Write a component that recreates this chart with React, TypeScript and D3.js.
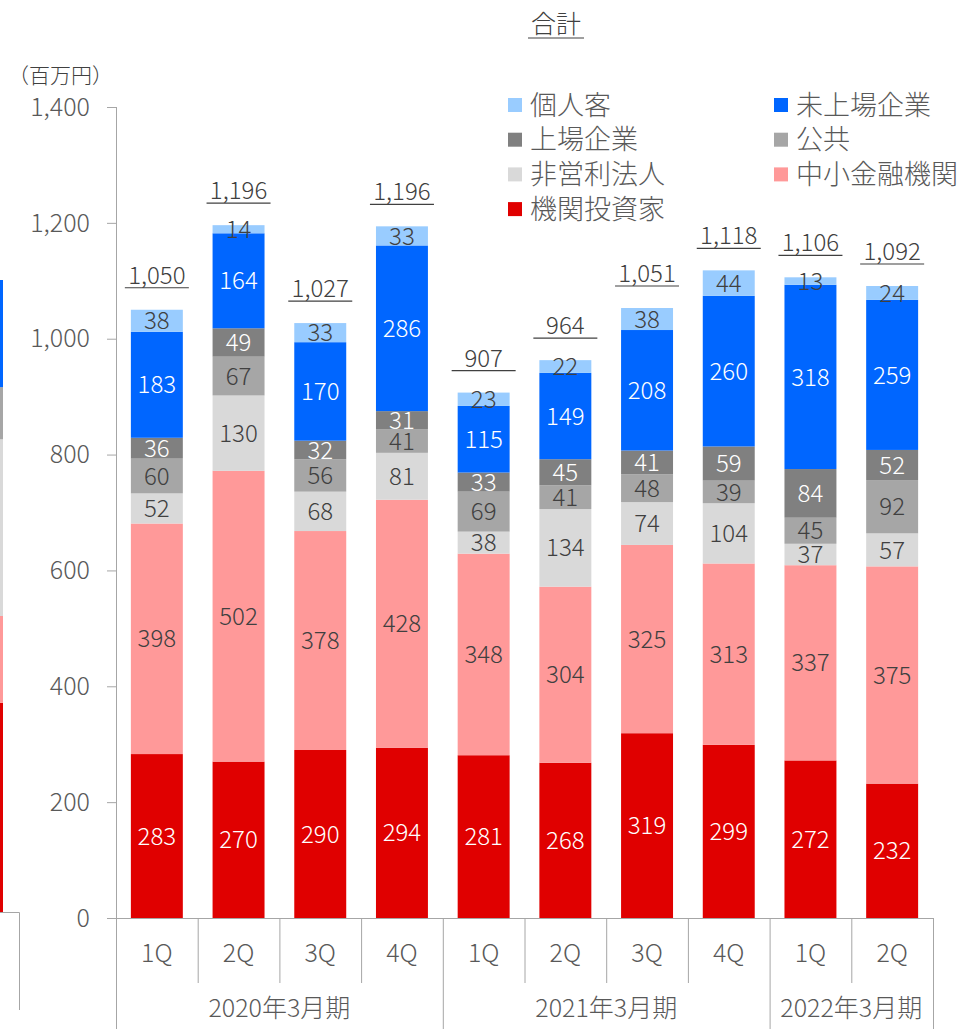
import { useMemo } from "react";
import { scaleBand, scaleLinear, stack, format } from "d3";

// values are stacked bottom -> top
const categories = ["1Q", "2Q", "3Q", "4Q", "1Q", "2Q", "3Q", "4Q", "1Q", "2Q"];
const periodLabels = ["2020年3月期", "2021年3月期", "2022年3月期"];
const periodSizes = [4, 4, 2];

const institutional = [283, 270, 290, 294, 281, 268, 319, 299, 272, 232];
const smallFinance = [398, 502, 378, 428, 348, 304, 325, 313, 337, 375];
const nonProfit = [52, 130, 68, 81, 38, 134, 74, 104, 37, 57];
const publicSector = [60, 67, 56, 41, 69, 41, 48, 39, 45, 92];
const listed = [36, 49, 32, 31, 33, 45, 41, 59, 84, 52];
const unlisted = [183, 164, 170, 286, 115, 149, 208, 260, 318, 259];
const individual = [38, 14, 33, 33, 23, 22, 38, 44, 13, 24];
const totals = [1050, 1196, 1027, 1196, 907, 964, 1051, 1118, 1106, 1092];

const yTicks = [0, 200, 400, 600, 800, 1000, 1200, 1400];

// edge of the neighbouring chart, cut off at the left
const neighbourValues = [361, 150, 305, 90, 185];

const series = [
  { key: "機関投資家", values: institutional, color: "#E00000", text: "#fff" },
  { key: "中小金融機関", values: smallFinance, color: "#FF9999", text: "#404040" },
  { key: "非営利法人", values: nonProfit, color: "#D9D9D9", text: "#404040" },
  { key: "公共", values: publicSector, color: "#A6A6A6", text: "#404040" },
  { key: "上場企業", values: listed, color: "#808080", text: "#fff" },
  { key: "未上場企業", values: unlisted, color: "#0066FF", text: "#fff" },
  { key: "個人客", values: individual, color: "#99CCFF", text: "#404040" },
];

// legend layout: [series key, column, row]
const legendOrder: [string, number, number][] = [
  ["個人客", 0, 0],
  ["未上場企業", 1, 0],
  ["上場企業", 0, 1],
  ["公共", 1, 1],
  ["非営利法人", 0, 2],
  ["中小金融機関", 1, 2],
  ["機関投資家", 0, 3],
];

const W = 965;
const H = 1029;
const left = 116;
const right = 933;
const base = 918;
const top = 107;
const font = "'Noto Sans CJK JP', 'Noto Sans', sans-serif";
const axisColor = "#A6A6A6";
const fmt = format(",");

export default function App() {
  const x = scaleBand<number>()
    .domain(categories.map((_, i) => i))
    .range([left, right])
    .paddingInner(0.364)
    .paddingOuter(0.182);
  const y = scaleLinear().domain([0, 1400]).range([base, top]);
  const yN = scaleLinear().domain([0, 1400]).range([912, 912 - (base - top)]);

  const stacked = useMemo(() => {
    const rows = categories.map((_, i) => {
      const r: Record<string, number> = {};
      series.forEach((s) => (r[s.key] = s.values[i]));
      return r;
    });
    return stack<Record<string, number>>().keys(series.map((s) => s.key))(rows);
  }, []);

  const neighbour = stack<Record<string, number>>().keys(neighbourValues.map((_, i) => "k" + i))([
    Object.fromEntries(neighbourValues.map((v, i) => ["k" + i, v])),
  ]);
  const neighbourColors = ["#E00000", "#FF9999", "#D9D9D9", "#A6A6A6", "#0066FF"];

  const step = x.step();
  const bounds: number[] = [];
  let acc = 0;
  periodSizes.forEach((n) => {
    bounds.push(acc);
    acc += n;
  });
  bounds.push(acc);

  return (
    <svg
      width={W}
      height={H}
      style={{ position: "absolute", left: 0, top: 0, background: "#fff" }}
      fontFamily={font}
      fontWeight={300}
    >
      {/* neighbouring chart fragment */}
      {neighbour.map((layer, i) => (
        <rect
          key={i}
          x={0}
          width={3}
          y={yN(layer[0][1])}
          height={yN(layer[0][0]) - yN(layer[0][1])}
          fill={neighbourColors[i]}
        />
      ))}
      <path d={`M0,912.5H19.5V1010`} fill="none" stroke={axisColor} strokeWidth={1} />

      {/* title */}
      <text x={556} y={33} textAnchor="middle" fontSize={25} fill="#404040">
        合計
      </text>
      <line x1={528} x2={584} y1={38} y2={38} stroke="#404040" strokeWidth={1.2} />
      <text x={8} y={83} fontSize={21} fill="#404040">
        （百万円）
      </text>

      {/* y axis */}
      <line x1={left + 0.5} x2={left + 0.5} y1={top} y2={base} stroke={axisColor} />
      {yTicks.map((t) => (
        <g key={t}>
          <line x1={107} x2={left} y1={y(t) + 0.5} y2={y(t) + 0.5} stroke={axisColor} />
          <text x={90} y={y(t)} dy="0.35em" textAnchor="end" fontSize={25} fill="#595959">
            {fmt(t)}
          </text>
        </g>
      ))}

      {/* bars */}
      {stacked.map((layer, si) =>
        layer.map((d, i) => (
          <rect
            key={si + "-" + i}
            x={x(i)}
            width={x.bandwidth()}
            y={y(d[1])}
            height={y(d[0]) - y(d[1])}
            fill={series[si].color}
          />
        ))
      )}
      {stacked.map((layer, si) =>
        layer.map((d, i) => (
          <text
            key={"l" + si + "-" + i}
            x={x(i)! + x.bandwidth() / 2}
            y={(y(d[0]) + y(d[1])) / 2}
            dy="0.36em"
            textAnchor="middle"
            fontSize={24}
            fill={series[si].text}
          >
            {series[si].values[i]}
          </text>
        ))
      )}

      {/* totals */}
      {totals.map((t, i) => {
        const cx = x(i)! + x.bandwidth() / 2;
        const yy = y(stacked[stacked.length - 1][i][1]) - 26;
        return (
          <g key={"t" + i}>
            <text x={cx} y={yy} textAnchor="middle" fontSize={24} fill="#404040">
              {fmt(t)}
            </text>
            <line x1={cx - 32} x2={cx + 32} y1={yy + 4} y2={yy + 4} stroke="#404040" strokeWidth={1.2} />
          </g>
        );
      })}

      {/* x axis */}
      <line x1={107} x2={right} y1={base + 0.5} y2={base + 0.5} stroke={axisColor} />
      {categories.map((c, i) => (
        <g key={"c" + i}>
          <line
            x1={left + step * i + 0.5}
            x2={left + step * i + 0.5}
            y1={base}
            y2={bounds.includes(i) ? H : 983}
            stroke={axisColor}
          />
          <text
            x={x(i)! + x.bandwidth() / 2}
            y={953}
            dy="0.36em"
            textAnchor="middle"
            fontSize={25}
            fill="#595959"
          >
            {c}
          </text>
        </g>
      ))}
      <line x1={right + 0.5} x2={right + 0.5} y1={base} y2={H} stroke={axisColor} />
      {periodLabels.map((p, gi) => (
        <text
          key={p}
          x={left + step * ((bounds[gi] + bounds[gi + 1]) / 2)}
          y={1008}
          dy="0.36em"
          textAnchor="middle"
          fontSize={25}
          fill="#595959"
        >
          {p}
        </text>
      ))}

      {/* legend */}
      {legendOrder.map(([key, col, row]) => {
        const s = series.find((q) => q.key === key)!;
        const lx = col === 0 ? 508 : 774;
        const ly = 105 + row * 34.7;
        return (
          <g key={key}>
            <rect x={lx} y={ly - 7} width={14} height={14} fill={s.color} />
            <text x={lx + 22} y={ly} dy="0.36em" fontSize={27} fill="#595959">
              {key}
            </text>
          </g>
        );
      })}
    </svg>
  );
}
